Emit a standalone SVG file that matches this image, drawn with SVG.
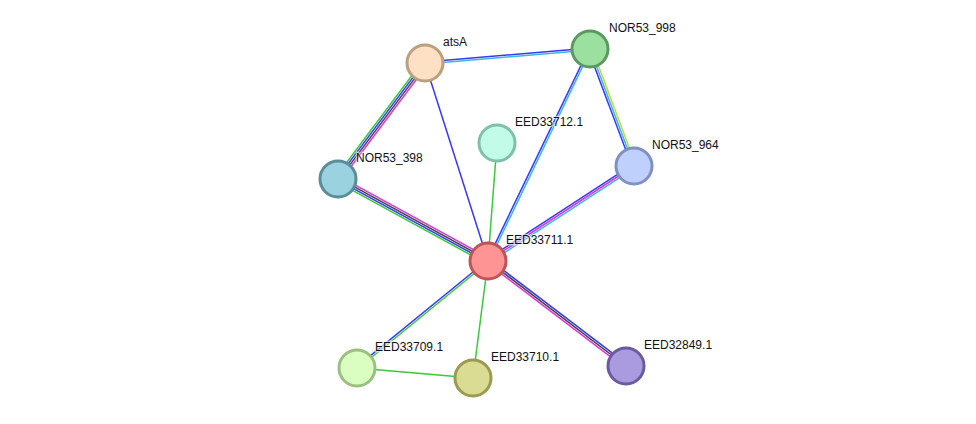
<svg xmlns="http://www.w3.org/2000/svg" width="976" height="424" viewBox="0 0 976 424">
<style>
.e line{stroke-width:1.5;fill:none}
.b{stroke:#3838f5}.g{stroke:#3cc83c}.m{stroke:#d838d8}.c{stroke:#38b8dc}.k{stroke:#444444}.y{stroke:#c4d838}
.n circle{stroke-width:3}
.n text{font-family:"Liberation Sans",Arial,sans-serif;font-size:12px;fill:#111;stroke:#fff;stroke-width:2.5;stroke-opacity:0.6;paint-order:stroke}
</style>
<rect width="976" height="424" fill="#fff"/>
<g id="edges" class="e">
  <g transform="translate(425,63) rotate(-4.85)"><line class="b" x1="0" y1="-1" x2="165.6" y2="-1"/><line class="c" x1="0" y1="1" x2="165.6" y2="1"/></g>
  <g transform="translate(425,63) rotate(126.87)"><line class="g" x1="0" y1="3" x2="145" y2="3"/><line class="b" x1="0" y1="1" x2="145" y2="1"/><line class="k" x1="0" y1="-1" x2="145" y2="-1"/><line class="m" x1="0" y1="-3" x2="145" y2="-3"/></g>
  <line class="b" x1="425" y1="63" x2="488" y2="261"/>
  <g transform="translate(590,49) rotate(115.7)"><line class="b" x1="0" y1="1" x2="235.3" y2="1"/><line class="c" x1="0" y1="-1" x2="235.3" y2="-1"/></g>
  <g transform="translate(590,49) rotate(69.4)"><line class="b" x1="0" y1="2" x2="125" y2="2"/><line class="c" x1="0" y1="0" x2="125" y2="0"/><line class="y" x1="0" y1="-2" x2="125" y2="-2"/></g>
  <line class="g" x1="497" y1="143" x2="488" y2="261"/>
  <g transform="translate(634,166) rotate(146.95)"><line class="b" x1="0" y1="2" x2="174.2" y2="2"/><line class="m" x1="0" y1="0" x2="174.2" y2="0"/><line class="c" x1="0" y1="-2" x2="174.2" y2="-2"/></g>
  <g transform="translate(338,179) rotate(28.66)"><line class="m" x1="0" y1="-3" x2="171" y2="-3"/><line class="k" x1="0" y1="-1" x2="171" y2="-1"/><line class="b" x1="0" y1="1" x2="171" y2="1"/><line class="g" x1="0" y1="3" x2="171" y2="3"/></g>
  <g transform="translate(488,261) rotate(140.76)"><line class="b" x1="0" y1="1" x2="169.1" y2="1"/><line class="g" x1="0" y1="-1" x2="169.1" y2="-1"/></g>
  <line class="g" x1="488" y1="261" x2="473" y2="378"/>
  <line class="g" x1="357" y1="368" x2="473" y2="378"/>
  <g transform="translate(488,261) rotate(37.27)"><line class="b" x1="0" y1="-2" x2="173.4" y2="-2"/><line class="k" x1="0" y1="0" x2="173.4" y2="0"/><line class="m" x1="0" y1="2" x2="173.4" y2="2"/></g>
</g>
<g id="atsA" class="n"><circle cx="425" cy="63" r="18" fill="#fee0c4" stroke="#bba07e"/><text x="443" y="46">atsA</text></g>
<g id="NOR53_998" class="n"><circle cx="590" cy="49" r="18" fill="#9ce0a0" stroke="#5a9a60"/><text x="609" y="32">NOR53_998</text></g>
<g id="EED33712.1" class="n"><circle cx="497" cy="143" r="18" fill="#c2fce8" stroke="#80c0aa"/><text x="515" y="126">EED33712.1</text></g>
<g id="NOR53_398" class="n"><circle cx="338" cy="179" r="18" fill="#9ad2e0" stroke="#5a8c9a"/><text x="356" y="162">NOR53_398</text></g>
<g id="NOR53_964" class="n"><circle cx="634" cy="166" r="18" fill="#c0d0fc" stroke="#8090c0"/><text x="652" y="149">NOR53_964</text></g>
<g id="EED33711.1" class="n"><circle cx="488" cy="261" r="18" fill="#ff9494" stroke="#c05454"/><text x="506" y="244">EED33711.1</text></g>
<g id="EED33709.1" class="n"><circle cx="357" cy="368" r="18" fill="#dafec2" stroke="#9ac080"/><text x="375" y="351">EED33709.1</text></g>
<g id="EED33710.1" class="n"><circle cx="473" cy="378" r="18" fill="#dadc94" stroke="#9a9a50"/><text x="491" y="361">EED33710.1</text></g>
<g id="EED32849.1" class="n"><circle cx="626" cy="366" r="18" fill="#aa9ae0" stroke="#6a5aa0"/><text x="644" y="349">EED32849.1</text></g>
</svg>
